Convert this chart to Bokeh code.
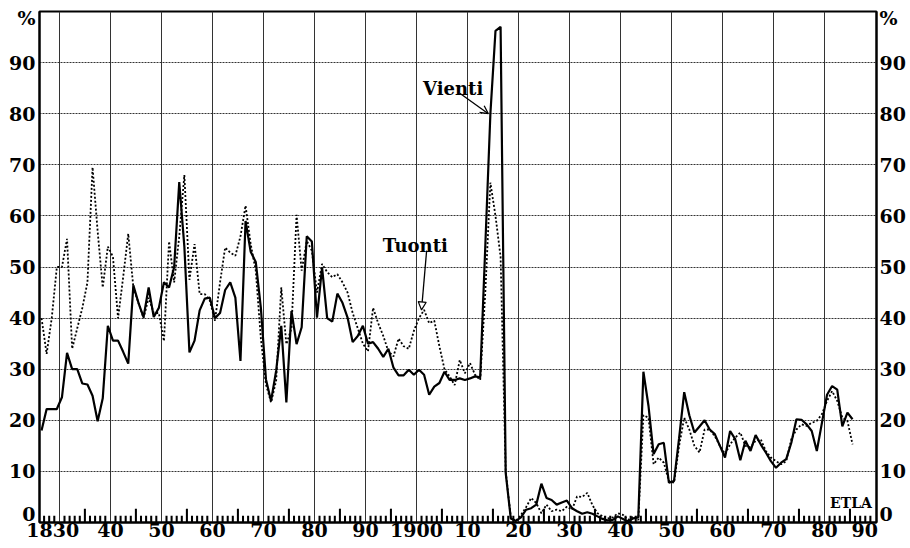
from bokeh.plotting import figure
from bokeh.models import Range1d, LinearAxis, FixedTicker, Arrow, OpenHead, NormalHead, Label
from bokeh.embed import file_html
from bokeh.resources import INLINE

# ---- data ----
years = list(range(1826, 1986))

vienti = [
    18.0, 22.2, 22.2, 22.2, 24.5, 33.2, 30.0, 30.0, 27.2, 27.0,      # 1826-1835
    24.8, 19.8, 24.3, 38.5, 35.6, 35.6, 33.4, 31.1, 46.4, 43.0,      # 1836-1845
    40.2, 46.0, 40.2, 42.0, 47.0, 46.0, 50.0, 66.6, 54.0, 33.3,      # 1846-1855
    35.6, 41.5, 43.8, 44.0, 40.0, 41.0, 45.5, 47.0, 44.0, 31.6,      # 1856-1865
    59.0, 53.0, 51.0, 42.0, 28.0, 23.8, 29.7, 38.5, 23.5, 41.4,      # 1866-1875
    34.9, 38.2, 56.0, 55.0, 40.1, 49.9, 40.0, 39.3, 44.8, 43.0,      # 1876-1885
    40.1, 35.3, 36.5, 38.5, 35.0, 35.3, 34.0, 32.4, 34.0, 30.3,      # 1886-1895
    28.8, 28.8, 29.9, 28.9, 29.9, 28.9, 25.0, 26.6, 27.3, 29.5,      # 1896-1905
    27.9, 27.9, 28.2, 27.9, 28.2, 28.6, 28.4, 54.0, 80.0, 96.2,      # 1906-1915
    97.0, 9.7, 0.8, 0.3, 1.0, 2.5, 2.8, 3.5, 7.6, 4.8,               # 1916-1925
    4.4, 3.5, 3.9, 4.3, 2.8, 2.2, 1.7, 2.0, 1.7, 1.2,                # 1926-1935
    0.7, 0.4, 0.5, 1.2, 0.7, 0.2, 0.8, 1.0, 29.5, 22.8,              # 1936-1945
    13.4, 15.3, 15.6, 7.8, 8.1, 16.5, 25.5, 21.0, 17.6, 18.8,        # 1946-1955
    20.0, 18.2, 17.3, 15.0, 12.7, 17.9, 16.3, 12.2, 16.0, 14.0,      # 1956-1965
    17.1, 15.3, 13.7, 12.0, 10.7, 11.7, 12.4, 15.6, 20.2, 20.1,      # 1966-1975
    19.2, 17.9, 14.0, 19.5, 25.0, 26.7, 26.0, 18.8, 21.5, 20.2,      # 1976-1985
]

tuonti = [
    40.0, 33.0, 40.0, 50.0, 50.0, 55.5, 34.0, 38.0, 42.0, 47.0,      # 1826-1835
    69.5, 57.0, 46.0, 54.0, 52.0, 40.0, 48.0, 56.5, 46.0, 43.0,      # 1836-1845
    40.0, 44.0, 41.0, 41.0, 35.5, 55.0, 47.0, 56.0, 68.0, 47.5,      # 1846-1855
    54.5, 44.7, 44.7, 43.4, 39.5, 47.0, 53.8, 52.8, 52.2, 56.0,      # 1856-1865
    62.0, 54.5, 49.3, 36.0, 27.0, 23.5, 27.8, 46.0, 34.9, 38.0,      # 1866-1875
    60.2, 49.3, 55.1, 53.2, 45.0, 50.6, 49.0, 48.0, 48.6, 47.0,      # 1876-1885
    45.0, 41.0, 38.0, 35.0, 33.5, 42.0, 39.0, 36.5, 33.5, 32.5,      # 1886-1895
    36.0, 34.5, 34.0, 37.5, 40.0, 41.6, 39.0, 39.5, 34.5, 30.0,      # 1896-1905
    28.6, 26.9, 31.8, 29.2, 31.2, 28.9, 27.9, 45.0, 66.5, 60.0,      # 1906-1915
    52.0, 10.0, 1.0, 0.3, 1.5, 3.0, 4.8, 3.8, 1.8, 3.5,              # 1916-1925
    2.2, 2.5, 2.2, 3.1, 2.5, 5.1, 5.0, 5.8, 3.4, 1.8,                # 1926-1935
    1.2, 0.8, 1.0, 1.8, 1.5, 0.5, 1.2, 0.5, 21.0, 20.5,              # 1936-1945
    11.4, 12.7, 11.7, 8.1, 7.8, 15.0, 20.5, 18.2, 15.0, 13.7,        # 1946-1955
    18.2, 18.2, 16.9, 15.0, 13.4, 15.3, 16.6, 17.6, 15.0, 14.7,      # 1956-1965
    16.0, 16.3, 14.0, 12.7, 12.0, 11.4, 12.0, 16.3, 18.2, 19.2,      # 1966-1975
    18.9, 19.5, 19.9, 21.2, 23.8, 25.7, 23.8, 20.5, 19.9, 15.3,      # 1976-1985
]

decades = list(range(1830, 1990, 10))
half_decades = list(range(1835, 1990, 10))
minor_years = [yr for yr in range(1827, 1990) if yr % 5 != 0]
# tick-label texts; the first and last sit slightly left of their gridline, as in the original
x_tick_labels = {1828.7: "1830", 1840: "40", 1850: "50", 1860: "60", 1870: "70",
                 1880: "80", 1890: "90", 1900: "1900", 1910: "10", 1920: "20",
                 1930: "30", 1940: "40", 1950: "50", 1960: "60", 1970: "70",
                 1980: "80", 1987.9: "90"}
y_grid_values = [10, 20, 30, 40, 50, 60, 70, 80, 90]
y_tick_labels = {1.6: "0", 10: "10", 20: "20", 30: "30", 40: "40", 50: "50",
                 60: "60", 70: "70", 80: "80", 90: "90", 98.7: "%"}

# annual values plotted at mid-year
x = [yr + 0.5 for yr in years]

FONT = "DejaVu Serif"

p = figure(width=910, height=548, output_backend="svg", toolbar_location=None,
           x_range=Range1d(1826.1, 1990.2), y_range=Range1d(0, 100),
           min_border_left=39, min_border_right=34, min_border_top=11,
           min_border_bottom=26, background_fill_color="white",
           border_fill_color="white")

p.outline_line_color = "black"
p.outline_line_width = 2

# grids
p.xgrid.ticker = FixedTicker(ticks=decades)
p.xgrid.grid_line_color = "#333333"
p.xgrid.grid_line_width = 1
p.ygrid.ticker = FixedTicker(ticks=y_grid_values)
p.ygrid.grid_line_color = "#333333"
p.ygrid.grid_line_width = 1
p.ygrid.grid_line_dash = "2 1"

# x axis (labels only; tick marks drawn inside the frame below)
xa = p.xaxis[0]
xa.ticker = FixedTicker(ticks=list(x_tick_labels.keys()))
xa.major_label_overrides = dict(x_tick_labels)
xa.major_tick_in = 0
xa.major_tick_out = 0
xa.minor_tick_line_color = None
xa.axis_line_color = "black"
xa.axis_line_width = 2
xa.major_label_standoff = 0
xa.major_label_text_font = FONT
xa.major_label_text_font_style = "bold"
xa.major_label_text_font_size = "19px"
xa.major_label_text_color = "black"

# inward year ticks along the bottom (thin bars from the baseline)
p.vbar(x=minor_years, width=0.4, bottom=0, top=1.3,
       fill_color="black", line_color=None)
p.vbar(x=half_decades, width=0.4, bottom=0, top=2.7,
       fill_color="black", line_color=None)

# y axes
def style_y(ax, standoff):
    ax.ticker = FixedTicker(ticks=list(y_tick_labels.keys()))
    ax.major_label_overrides = dict(y_tick_labels)
    ax.major_tick_in = 0
    ax.major_tick_out = 0
    ax.minor_tick_line_color = None
    ax.axis_line_color = "black"
    ax.axis_line_width = 2
    ax.major_label_standoff = standoff
    ax.major_label_text_font = FONT
    ax.major_label_text_font_style = "bold"
    ax.major_label_text_font_size = "19px"
    ax.major_label_text_color = "black"

style_y(p.yaxis[0], 4)
ry = LinearAxis()
style_y(ry, 3)
p.add_layout(ry, "right")

# series
p.line(x, tuonti, line_color="black", line_width=1.8, line_dash="2 2")
p.line(x, vienti, line_color="black", line_width=2.2)

# annotations
i14 = years.index(1914)
i01 = years.index(1901)
p.add_layout(Label(x=1901.3, y=84.9, text="Vienti", text_font=FONT,
                   text_font_style="bold", text_font_size="18px", text_color="black",
                   text_baseline="alphabetic"))
p.add_layout(Arrow(end=OpenHead(size=8, line_width=1.3, line_color="black"),
                   x_start=1908.5, y_start=84.0, x_end=x[i14] - 0.4, y_end=vienti[i14],
                   line_width=1.3, line_color="black"))
p.add_layout(Label(x=1893.4, y=54.2, text="Tuonti", text_font=FONT,
                   text_font_style="bold", text_font_size="18px", text_color="black",
                   text_baseline="alphabetic"))
p.add_layout(Arrow(end=NormalHead(size=8, line_width=1.2, line_color="black",
                                  fill_color="white"),
                   x_start=1902.0, y_start=53.2, x_end=x[i01] - 0.5, y_end=tuonti[i01],
                   line_width=1.3, line_color="black"))
p.add_layout(Label(x=1981.1, y=3.8, text="ETLA", text_font=FONT,
                   text_font_style="bold", text_font_size="14px", text_color="black",
                   text_baseline="alphabetic"))

open("out.html", "w").write(file_html(p, INLINE))
